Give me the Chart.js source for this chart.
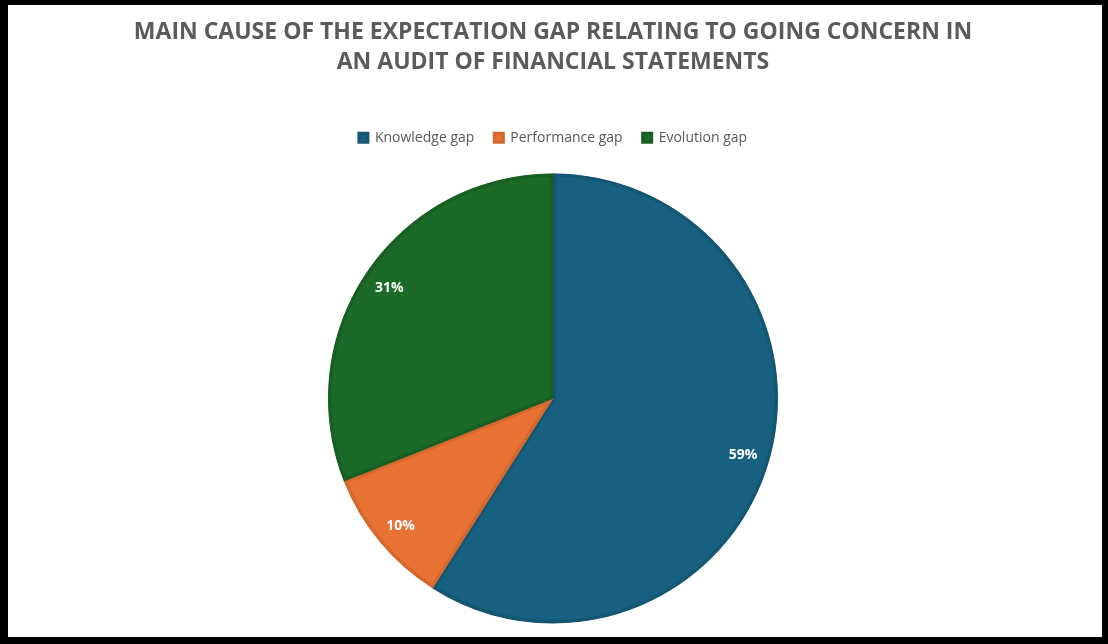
<!DOCTYPE html>
<html>
<head>
<meta charset="utf-8">
<script src="https://cdn.jsdelivr.net/npm/chart.js@4.4.1/dist/chart.umd.min.js"></script>
<style>
  html, body { margin: 0; padding: 0; background: #000; }
  #frame {
    width: 1094px; height: 632px;
    border-style: solid; border-color: #000;
    border-width: 5px 7px 7px 8px;
    background: #fff;
    overflow: hidden;
  }
  canvas { display: block; }
</style>
</head>
<body>
<!-- canvas is a bit taller than the white frame so the pie sits lower, like the original -->
<div id="frame"><canvas id="pieChart" width="1094" height="637"></canvas></div>
<script>
const titleLines = ["MAIN CAUSE OF THE EXPECTATION GAP RELATING TO GOING CONCERN IN", "AN AUDIT OF FINANCIAL STATEMENTS"];
const categories = ["Knowledge gap", "Performance gap", "Evolution gap"];
const shares = [59, 10, 31];
const sliceColors = ["#17607f", "#e87234", "#1b6a27"];
const edgeColors = ["#155773", "#d4682f", "#195f23"];

// white percentage labels, placed towards the outer edge like the original
const sliceLabels = {
  id: "sliceLabels",
  afterDatasetsDraw(chart) {
    const ctx = chart.ctx;
    const meta = chart.getDatasetMeta(0);
    ctx.save();
    ctx.fillStyle = "#ffffff";
    ctx.font = "bold 14px 'Open Sans'";
    ctx.textAlign = "center";
    ctx.textBaseline = "middle";
    meta.data.forEach((arc, i) => {
      const p = arc.getProps(["x", "y", "startAngle", "endAngle", "outerRadius"], true);
      const mid = (p.startAngle + p.endAngle) / 2;
      const r = p.outerRadius * 0.88;
      ctx.fillText(shares[i] + "%", p.x + Math.cos(mid) * r, p.y + Math.sin(mid) * r + 1);
    });
    ctx.restore();
  }
};

new Chart(document.getElementById("pieChart"), {
  type: "pie",
  data: {
    labels: categories,
    datasets: [{
      data: shares,
      backgroundColor: sliceColors,
      borderColor: edgeColors,
      borderWidth: 3,
      borderAlign: "inner",
      radius: 225
    }]
  },
  options: {
    responsive: false,
    animation: false,
    layout: { padding: { right: 4 } },
    plugins: {
      title: {
        display: true,
        text: titleLines,
        color: "#5b5b5b",
        font: { family: "'Open Sans'", size: 23, weight: "bold", lineHeight: 1.3 },
        padding: { top: 13, bottom: 33 }
      },
      legend: {
        position: "top",
        labels: {
          color: "#595959",
          font: { family: "'Open Sans'", size: 14 },
          boxWidth: 9,
          boxHeight: 9,
          padding: 20
        }
      },
      tooltip: { enabled: false }
    }
  },
  plugins: [sliceLabels]
});
</script>
</body>
</html>
